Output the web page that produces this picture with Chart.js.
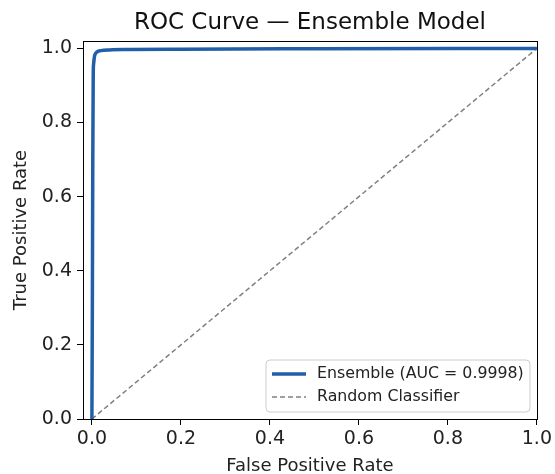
<!DOCTYPE html>
<html><head><meta charset="utf-8">
<script src="https://cdn.jsdelivr.net/npm/chart.js@4/dist/chart.umd.min.js"></script>
<style>html,body{margin:0;padding:0;background:#fff;}#wrap{width:555px;height:474px;}</style>
</head><body><div id="wrap"><canvas id="c" width="555" height="474"></canvas></div>
<script>
const titleText = 'ROC Curve — Ensemble Model';
const xTitle = 'False Positive Rate';
const yTitle = 'True Positive Rate';
const ensembleLabel = 'Ensemble (AUC = 0.9998)';
const randomLabel = 'Random Classifier';
const fpr = [0, 0.001, 0.002, 0.003, 0.004, 0.006, 0.008, 0.012, 0.02, 0.04, 0.08, 0.2, 0.5, 1.0];
const tpr = [0, 0.30, 0.70, 0.93, 0.96, 0.98, 0.986, 0.991, 0.994, 0.996, 0.997, 0.998, 0.999, 1.0];
const diagX = [0, 1];
const diagY = [0, 1];
const tickVals = [0, 0.2, 0.4, 0.6, 0.8, 1.0];

const FONT = "'DejaVu Sans', sans-serif";

const boxLegend = {
  id: 'boxLegend',
  afterLayout(chart) {
    if (chart.titleBlock) {
      chart.titleBlock.left = chart.chartArea.left;
      chart.titleBlock.right = chart.chartArea.right;
    }
  },
  afterDraw(chart) {
    const ctx = chart.ctx, a = chart.chartArea;
    ctx.save();
    ctx.strokeStyle = '#000'; ctx.lineWidth = 1;
    ctx.strokeRect(Math.round(a.left)+0.5, Math.round(a.top)+0.5, Math.round(a.right-a.left), Math.round(a.bottom-a.top));
    // legend
    const x0 = 266, y0 = 360, w = 264, h = 52, r = 4;
    ctx.fillStyle = 'rgba(255,255,255,0.85)';
    ctx.strokeStyle = '#cccccc';
    ctx.beginPath();
    ctx.moveTo(x0+r, y0); ctx.lineTo(x0+w-r, y0); ctx.quadraticCurveTo(x0+w, y0, x0+w, y0+r);
    ctx.lineTo(x0+w, y0+h-r); ctx.quadraticCurveTo(x0+w, y0+h, x0+w-r, y0+h);
    ctx.lineTo(x0+r, y0+h); ctx.quadraticCurveTo(x0, y0+h, x0, y0+h-r);
    ctx.lineTo(x0, y0+r); ctx.quadraticCurveTo(x0, y0, x0+r, y0); ctx.closePath();
    ctx.fill(); ctx.stroke();
    const ds = chart.data.datasets;
    const rows = [y0+14, y0+37];
    ds.forEach((d, i) => {
      ctx.beginPath();
      ctx.strokeStyle = d.borderColor; ctx.lineWidth = d.borderWidth;
      ctx.setLineDash(d.borderDash || []);
      ctx.moveTo(x0+6, rows[i]); ctx.lineTo(x0+40, rows[i]); ctx.stroke();
      ctx.setLineDash([]);
      ctx.fillStyle = '#222'; ctx.font = '15.8px ' + FONT; ctx.textBaseline = 'middle';
      ctx.fillText(d.label, x0+51, rows[i]);
    });
    ctx.restore();
  }
};

new Chart(document.getElementById('c'), {
  type: 'scatter',
  data: {
    datasets: [
      { label: ensembleLabel, data: fpr.map((x,i)=>({x, y: tpr[i]})), showLine: true,
        borderColor: '#2160a9', borderWidth: 3.5, pointRadius: 0, tension: 0.3, cubicInterpolationMode: 'monotone' },
      { label: randomLabel, data: diagX.map((x,i)=>({x, y: diagY[i]})), showLine: true,
        borderColor: '#808080', borderWidth: 1.5, borderDash: [5, 3], pointRadius: 0 }
    ]
  },
  options: {
    responsive: false, animation: false,
    layout: { padding: { left: 0, right: 17, top: 0, bottom: 0 } },
    plugins: {
      legend: { display: false },
      tooltip: { enabled: false },
      title: { display: true, text: titleText, color: '#111', font: { family: FONT, size: 23, weight: 'normal' }, padding: { top: 9, bottom: 4.4 } }
    },
    scales: {
      x: {
        type: 'linear', min: -0.02, max: 1.0,
        afterBuildTicks: s => { s.ticks = tickVals.map(v => ({ value: v })); },
        afterFit: s => { s.height = 55; },
        grid: { drawOnChartArea: false, drawTicks: true, tickLength: 6, color: '#000' },
        border: { display: false },
        ticks: { color: '#222', font: { family: FONT, size: 19 }, padding: 3, maxRotation: 0, callback: v => v.toFixed(1) },
        title: { display: true, text: xTitle, color: '#222', font: { family: FONT, size: 18 }, padding: { top: 0, bottom: -3 } }
      },
      y: {
        type: 'linear', min: 0, max: 1.02,
        afterBuildTicks: s => { s.ticks = tickVals.map(v => ({ value: v })); },
        afterFit: s => { s.width = 83; },
        grid: { drawOnChartArea: false, drawTicks: true, tickLength: 6, color: '#000' },
        border: { display: false },
        ticks: { color: '#222', font: { family: FONT, size: 19 }, padding: 5, callback: v => v.toFixed(1) },
        title: { display: true, text: yTitle, color: '#222', font: { family: FONT, size: 18 }, padding: { top: 11, bottom: 0 } }
      }
    }
  },
  plugins: [boxLegend]
});
</script></body></html>
